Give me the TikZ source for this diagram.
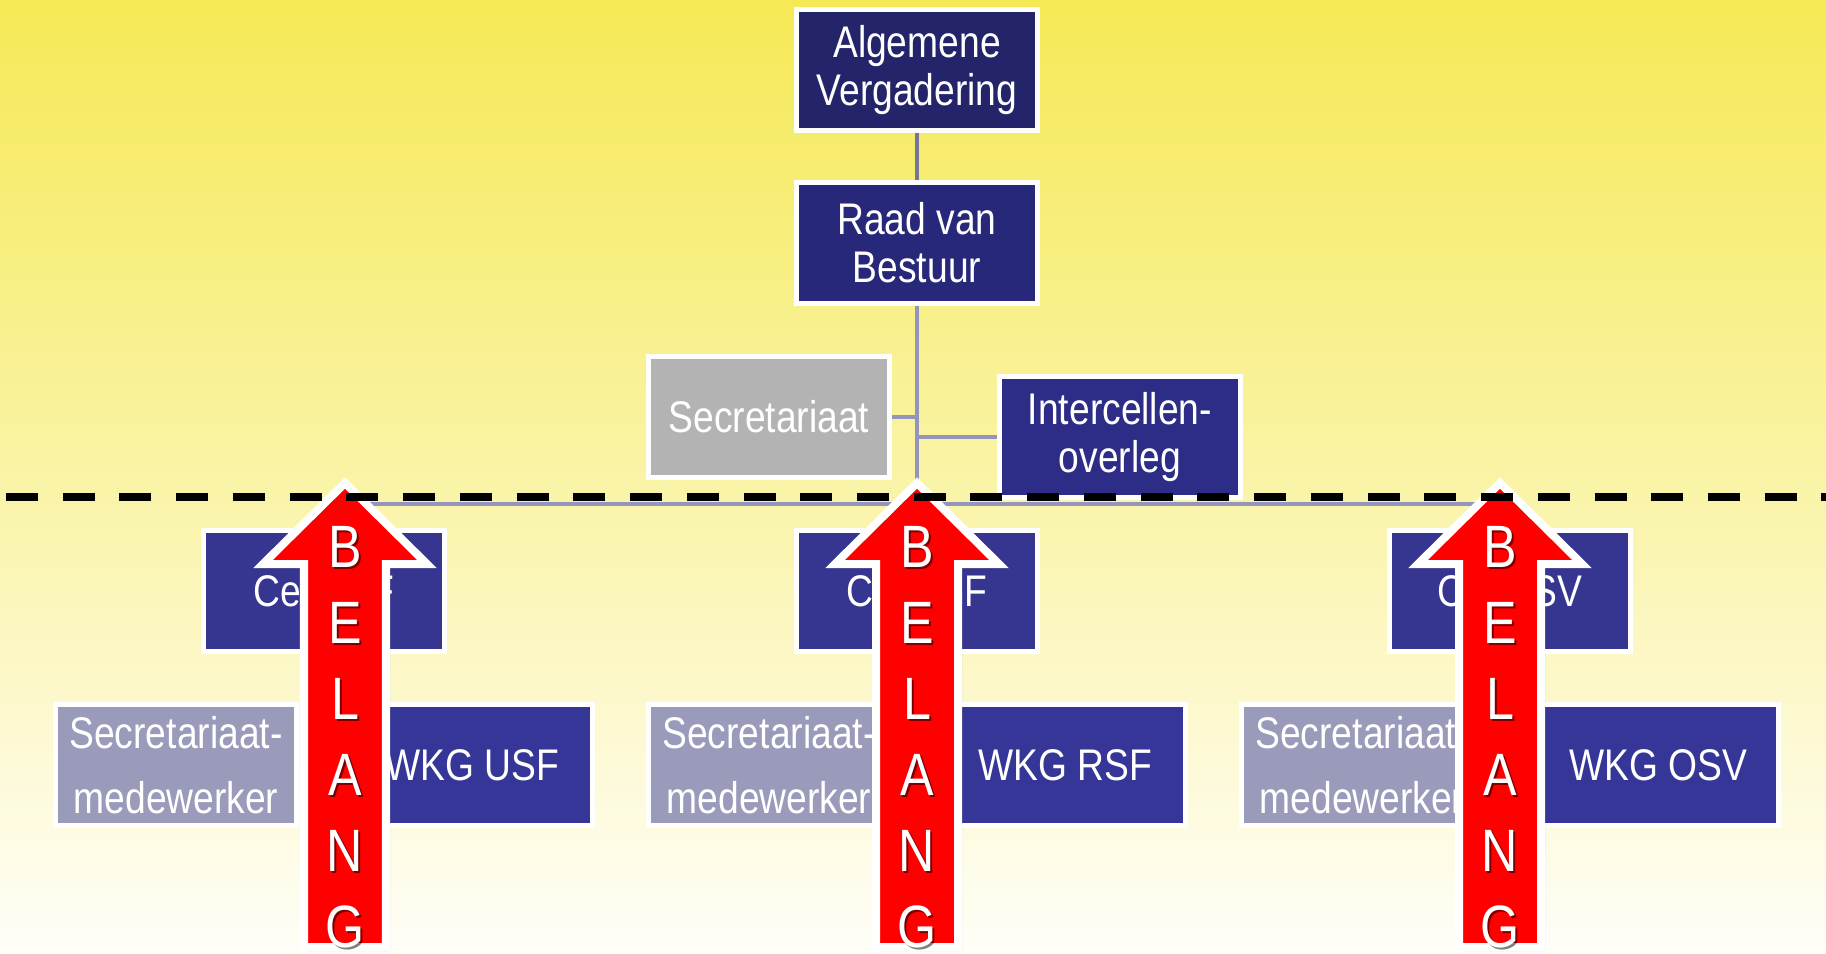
\documentclass[tikz,border=0pt]{standalone}
\usepackage{fontspec}
\setmainfont{Liberation Sans}[FakeStretch=0.84]
\usepackage{xcolor}
\usepackage{tikz}
\usetikzlibrary{positioning}

\definecolor{navyA}{RGB}{36,36,107}
\definecolor{navyB}{RGB}{40,40,122}
\definecolor{navyC}{RGB}{45,45,136}
\definecolor{navyD}{RGB}{54,54,144}
\definecolor{navyE}{RGB}{54,54,152}
\definecolor{grijs}{RGB}{179,179,179}
\definecolor{lila}{RGB}{154,154,187}
\definecolor{lijn}{RGB}{148,148,188}
\definecolor{geelTop}{RGB}{245,233,85}
\definecolor{geelMid}{RGB}{248,242,182}
\definecolor{geelBot}{RGB}{255,254,248}

\begin{document}
\begin{tikzpicture}[x=0.01cm, y=-0.01cm,
    box/.style={draw=white, line width=0.05cm, minimum width=2.41cm, minimum height=1.2cm,
        inner sep=0pt, align=center, text=white, font=\fontsize{12.6}{13.6}\selectfont},
    smbox/.style={box, fill=lila, font=\fontsize{12.6}{18.4}\selectfont},
    conn/.style={draw=lijn, line width=0.045cm},
    belang/.style={fill=red, draw=white, line width=0.08cm}]
    % 1. Achtergrond
    \shade[top color=geelTop, middle color=geelMid, bottom color=geelBot]
        (0,0) rectangle (1826,954);
    \useasboundingbox (0,0) rectangle (1826,954);

    % 2. Vakken
    \node[box, fill=navyA] (alg) at (917,70) {Algemene\\Vergadering};
    \node[box, fill=navyB] (raad) at (917,243) {Raad van\\Bestuur};
    \node[box, fill=grijs] (secr) at (769,417) {Secretariaat};
    \node[box, fill=navyC] (inter) at (1120,437) {Intercellen-\\overleg};
    \node[box, fill=navyD] (celusf) at (324,591) {Cel USF};
    \node[box, fill=navyD] (celrsf) at (917,591) {Cel RSF};
    \node[box, fill=navyD] (celosv) at (1510,591) {Cel OSV};
    \node[smbox] (smusf) at (176,765) {Secretariaat-\\medewerker};
    \node[box, fill=navyE] (wkgusf) at (472,765) {WKG USF};
    \node[smbox] (smrsf) at (769,765) {Secretariaat-\\medewerker};
    \node[box, fill=navyE] (wkgrsf) at (1065,765) {WKG RSF};
    \node[smbox] (smosv) at (1362,765) {Secretariaat-\\medewerker};
    \node[box, fill=navyE] (wkgosv) at (1658,765) {WKG OSV};

    % 3. Verbindingen
    \coordinate (hub) at (917,504);
    \draw[conn, draw=lijn!80!black] (alg) -- (raad);
    \draw[conn] (raad) -- (hub);
    \draw[conn] (secr.east) -- (secr.east -| hub);
    \draw[conn] (inter.west) -- (inter.west -| hub);
    \draw[conn] (celusf.north) -- (celusf.north |- hub) -- (celosv.north |- hub) -- (celosv.north);
    \draw[conn] (hub) -- (celrsf.north);

    % 4. Pijlen BELANG
    \foreach \ax in {345,917,1500}{
        \fill[black, opacity=0.25] (\ax+4,487) -- (\ax+86,568) -- (\ax+45,568) -- (\ax+45,951)
            -- (\ax-37,951) -- (\ax-37,568) -- (\ax-78,568) -- cycle;
        \draw[belang] (\ax,483) -- (\ax+82,564) -- (\ax+41,564) -- (\ax+41,947)
            -- (\ax-41,947) -- (\ax-41,564) -- (\ax-82,564) -- cycle;
        \foreach \l [count=\i from 0] in {B,E,L,A,N,G}{
            \node[anchor=base, text=black, opacity=0.5, font=\fontsize{17}{18}\selectfont]
                (s-\ax-\i) at (\ax+2,569+76*\i) {\l};
            \node[anchor=base, text=white, font=\fontsize{17}{18}\selectfont]
                (l-\ax-\i) at (\ax,567+76*\i) {\l};
        }
    }

    % 5. Stippellijn
    \draw[line width=0.08cm, dash pattern=on 0.32cm off 0.247cm] (6,497) -- (1826,497);
\end{tikzpicture}
\end{document}
